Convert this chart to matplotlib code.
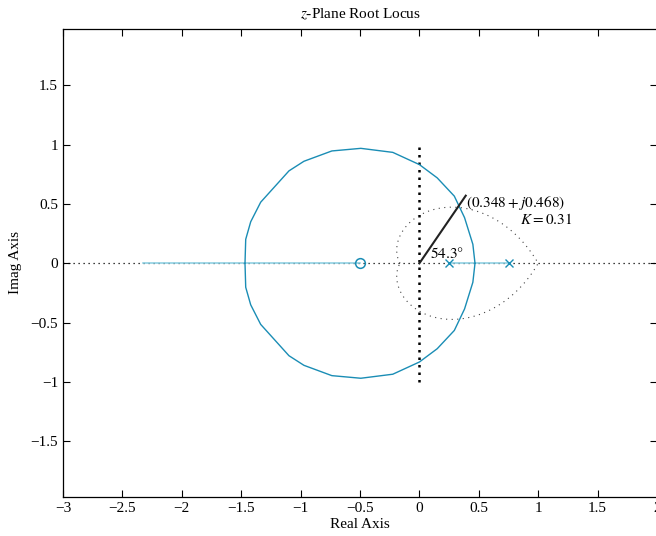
import numpy as np
import matplotlib
matplotlib.use('Agg')
import matplotlib.pyplot as plt

plt.rcParams['font.family'] = ['Liberation Serif', 'DejaVu Serif']
plt.rcParams['mathtext.fontset'] = 'stix'
plt.rcParams['axes.unicode_minus'] = True

# open-loop poles and zero
poles = [0.25, 0.75]
zeros = [-0.5]

# complex branch of the locus (upper half); lower half is its conjugate
circ_re = [0.468, 0.45, 0.38, 0.294, 0.15, 0.0, -0.224, -0.493, -0.737,
           -0.972, -1.098, -1.336, -1.42, -1.462, -1.468]
circ_im = [0.0, 0.16, 0.385, 0.566, 0.72, 0.832, 0.935, 0.969, 0.947,
           0.860, 0.779, 0.515, 0.35, 0.202, 0.0]

# real-axis branches
real_left = [-2.33, -0.5]
real_mid = [0.25, 0.75]

# damping line, design point
zeta = 0.5
ray_end = (0.39, 0.57)
design_label = r'$(0.348 + j0.468)$'
gain_label = r'$K = 0.31$'
angle_label = r'$54.3°$'

xticks = [-3, -2.5, -2, -1.5, -1, -0.5, 0, 0.5, 1, 1.5, 2]
yticks = [-1.5, -1, -0.5, 0, 0.5, 1, 1.5]

dark = '#1a8db5'
light = '#86cde0'

fig = plt.figure(figsize=(6.56, 5.36), dpi=100)
ax = fig.add_axes([63 / 656, 39 / 536, 594 / 656, 468 / 536])

ax.axhline(0, color='black', lw=0.9, ls=(0, (1, 3)), zorder=1)
ax.plot([0, 0], [-1, 1], color='black', lw=1.8, ls=(0, (1, 2)), zorder=1)

# constant zeta contour
th = np.linspace(0, np.pi, 200)
r = np.exp(-zeta * th / np.sqrt(1 - zeta ** 2))
ax.plot(np.r_[(r * np.cos(th))[::-1], r * np.cos(th)],
        np.r_[(r * np.sin(th))[::-1], -r * np.sin(th)],
        color='#444444', lw=0.8, ls=(0, (1, 4)), zorder=1)

ax.plot(real_left, [0, 0], color=light, lw=1.1, zorder=2)
ax.plot(real_mid, [0, 0], color=light, lw=1.1, zorder=2)

cre = np.array(circ_re)
cim = np.array(circ_im)
ax.plot(cre, cim, color=dark, lw=1.0, zorder=3)
ax.plot(cre, -cim, color=dark, lw=1.0, zorder=3)

ax.plot(zeros, [0] * len(zeros), 'o', mfc='none', mec=dark, ms=7, mew=1.1, zorder=4)
ax.plot(poles, [0] * len(poles), 'x', color=dark, ms=6, mew=1.0, zorder=4)

ax.plot([0, ray_end[0]], [0, ray_end[1]], color='#222222', lw=1.5, zorder=5)

ax.text(0.395, 0.505, design_label, fontsize=11, va='center', ha='left')
ax.text(0.85, 0.37, gain_label, fontsize=11, va='center', ha='left')
ax.text(0.09, 0.085, angle_label, fontsize=11, va='center', ha='left')

ax.set_xlim(-3, 2)
ax.set_ylim(-1.97, 1.975)
ax.set_xticks(xticks)
ax.set_yticks(yticks)
ax.set_xticklabels([f'{v:g}'.replace('-', '\u2212') for v in xticks])
ax.set_yticklabels([f'{v:g}'.replace('-', '\u2212') for v in yticks])
ax.tick_params(direction='in', top=True, right=True, length=5, width=0.8, labelsize=11)
for s in ax.spines.values():
    s.set_linewidth(0.9)

ax.set_xlabel('Real Axis', fontsize=11, labelpad=2)
ax.set_ylabel('Imag Axis', fontsize=11, labelpad=6)
ax.set_title(r'$z$-Plane Root Locus', fontsize=11, pad=8)

fig.savefig('out.png', dpi=100)
